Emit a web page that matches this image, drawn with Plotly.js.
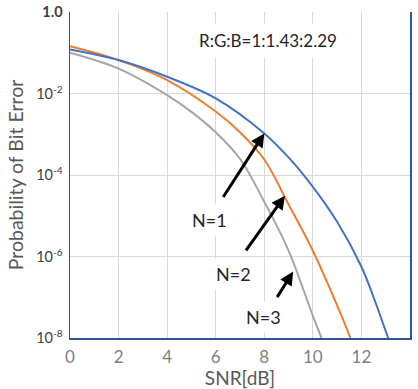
<!DOCTYPE html>
<html><head><meta charset="utf-8">
<script src="https://cdn.plot.ly/plotly-3.0.1.min.js"></script>
<style>html,body{margin:0;padding:0;background:#fff;}</style>
</head><body><div id="chart" style="width:418px;height:389px;"></div>
<script>
const snrN1 = [0, 2, 4, 6, 8, 9, 10, 11, 12, 12.5, 13.1];
const berN1 = [0.120, 0.0661, 0.0257, 0.00759, 0.00105, 2.7e-4, 5.13e-5, 7.1e-6, 5.6e-7, 1.0e-7, 1e-8];
const snrN2 = [0, 2, 4, 6, 7, 8, 9, 10, 11, 11.55];
const berN2 = [0.1445, 0.0661, 0.0214, 0.00363, 0.00112, 2.4e-4, 1.9e-5, 1.38e-6, 6.3e-8, 1e-8];
const snrN3 = [0, 2, 4, 5, 6, 7, 8, 9, 10, 10.36];
const berN3 = [0.100, 0.0407, 0.00912, 0.00355, 0.00112, 2.5e-4, 2.2e-5, 1.4e-6, 3.5e-8, 1e-8];
const xTicks = [0, 2, 4, 6, 8, 10, 12, 14];
const yTickVals = [1, 1e-2, 1e-4, 1e-6, 1e-8];
const yTickText = ['<b>1.0</b>', '10<sup>-2</sup>', '10<sup>-4</sup>', '10<sup>-6</sup>', '10<sup>-8</sup>'];
const ratioText = 'R:G:B=1:1.43:2.29';
const labels = ['N=1', 'N=2', 'N=3'];

const FONT = 'Lato, "Open Sans", sans-serif';
const mk = (x, y, c) => ({x: x, y: y, type: 'scatter', mode: 'lines',
  line: {color: c, width: 2, shape: 'spline', smoothing: 1}, hoverinfo: 'skip'});

const data = [
  mk(snrN3, berN3, '#A5A5A5'),
  mk(snrN2, berN2, '#ED7D31'),
  mk(snrN1, berN1, '#4472C4')
];

const arrow = (x, logy, ax, ay) => ({x: x, y: logy, xref: 'x', yref: 'y', text: '',
  showarrow: true, arrowhead: 2, arrowsize: 0.9, arrowwidth: 3, arrowcolor: '#000',
  ax: ax, ay: ay, standoff: 0});
const label = (t, x, logy) => ({x: x, y: logy, xref: 'x', yref: 'y', text: t, showarrow: false,
  font: {family: FONT, size: 18, color: '#262626'}, bgcolor: '#fff', borderpad: 4});

const layout = {
  width: 418, height: 389,
  margin: {l: 70, r: 8, t: 12, b: 51},
  paper_bgcolor: '#fff', plot_bgcolor: '#fff',
  showlegend: false,
  font: {family: FONT},
  xaxis: {
    range: [0, 14], tickvals: xTicks, ticks: '', ticklabelstandoff: 3,
    tickfont: {family: FONT, size: 17, color: '#7F7F7F'},
    showgrid: true, gridcolor: '#D9D9D9', gridwidth: 1, zeroline: false,
    showline: true, linecolor: '#2F5597', linewidth: 1.5, mirror: false,
    title: {text: 'SNR[dB]', font: {family: FONT, size: 19, color: '#595959'}, standoff: 4}
  },
  yaxis: {
    type: 'log', range: [-8, 0], tickvals: yTickVals, ticktext: yTickText, ticks: '',
    ticklabelstandoff: 3,
    tickfont: {family: FONT, size: 14.5, color: '#404040'},
    showgrid: true, gridcolor: '#D9D9D9', gridwidth: 1, zeroline: false,
    showline: true, linecolor: '#2F5597', linewidth: 1.5, mirror: true,
    title: {text: 'Probability of Bit Error', font: {family: FONT, size: 19.5, color: '#595959'}, standoff: 7}
  },
  annotations: [
    {x: 8.15, y: -0.70, xref: 'x', yref: 'y', text: ratioText, showarrow: false,
     font: {family: FONT, size: 17, color: '#262626'}, bgcolor: '#fff', borderpad: 6},
    arrow(8, -2.98, -42, 65),
    arrow(8.85, -4.51, -40, 56),
    arrow(9.19, -6.37, -17, 27),
    label(labels[0], 5.76, -5.10),
    label(labels[1], 6.72, -6.42),
    label(labels[2], 7.96, -7.48)
  ]
};

Plotly.newPlot('chart', data, layout, {staticPlot: true, displayModeBar: false});
</script>
</body></html>
